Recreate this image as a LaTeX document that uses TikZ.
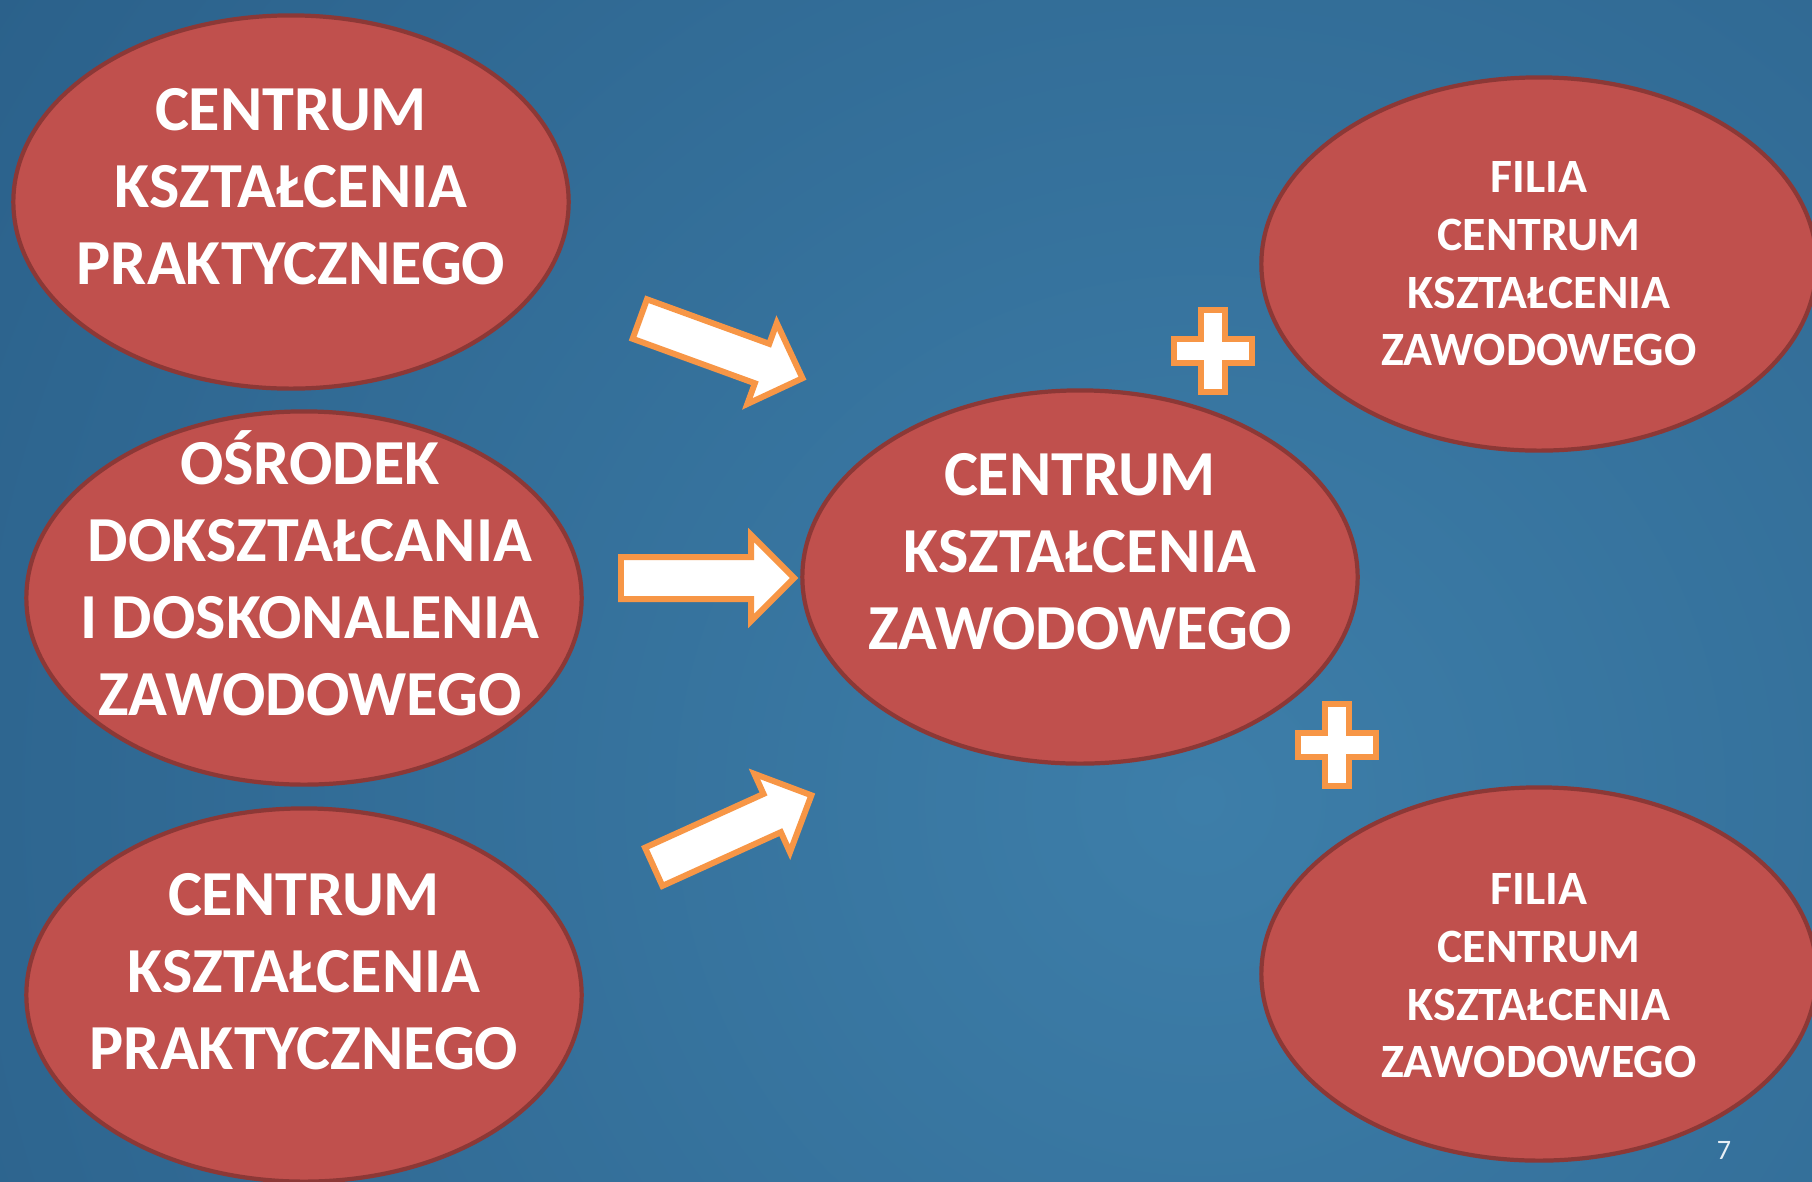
\documentclass[tikz,border=0pt]{standalone}
\usepackage{fontspec}
\setmainfont{Carlito}
\usetikzlibrary{shapes.geometric,shapes.arrows}
\definecolor{bgdark}{HTML}{1E4C75}
\definecolor{bglight}{HTML}{3D7EA9}
\definecolor{ovalfill}{HTML}{C0504D}
\definecolor{ovalline}{HTML}{8C3836}
\definecolor{arroworange}{HTML}{F79646}
\tikzstyle{unit}=[ellipse, draw=ovalline, fill=ovalfill, line width=1.2pt, inner sep=0pt, minimum width=5.55cm, minimum height=3.73cm]
\tikzstyle{bigtext}=[text=white, align=center, font=\fontsize{18.25pt}{21.9pt}\selectfont\bfseries]
\tikzstyle{smalltext}=[text=white, align=center, font=\fontsize{13.6pt}{16.4pt}\selectfont\bfseries]
\tikzstyle{blockarrow}=[single arrow, draw=arroworange, fill=white, line width=1.7pt, inner xsep=0pt, inner ysep=0.18cm, minimum height=1.73cm, single arrow head extend=0.22cm, anchor=tail]
\tikzstyle{plusbox}=[draw=arroworange, fill=white, line width=1.7pt]
\newcommand{\unitnode}{\node[unit]}
\newcommand{\blockarrow}{\node[blockarrow]}
\newcommand{\plussign}[1]{\draw[plusbox, shift={#1}] (-12,-41) -- (12,-41) -- (12,-12) -- (39,-12) -- (39,12) -- (12,12) -- (12,41) -- (-12,41) -- (-12,12) -- (-39,12) -- (-39,-12) -- (-12,-12) -- cycle;}

\begin{document}
\begin{tikzpicture}[x=0.01cm, y=-0.01cm]
	\useasboundingbox (0,0) rectangle (1812,1181);
	\begin{scope}
		\clip (0,0) rectangle (1812,1181);
		\shade[inner color=bglight, outer color=bgdark] (1200,800) circle (25cm);
	\end{scope}
	\unitnode (ckp1) at (291,202) [label={[bigtext,yshift=0.15cm]center:{CENTRUM\\KSZTAŁCENIA\\PRAKTYCZNEGO}}]{};
	\unitnode (odidz) at (304,598) [label={[bigtext,xshift=0.06cm,yshift=0.25cm]center:{OŚRODEK\\DOKSZTAŁCANIA\\I DOSKONALENIA\\ZAWODOWEGO}}]{};
	\unitnode (ckp2) at (304,995) [label={[bigtext,yshift=0.23cm]center:{CENTRUM\\KSZTAŁCENIA\\PRAKTYCZNEGO}}]{};
	\unitnode (ckz) at (1080,577) [label={[bigtext,yshift=0.25cm]center:{CENTRUM\\KSZTAŁCENIA\\ZAWODOWEGO}}]{};
	\unitnode (filia1) at (1539,264) [label={[smalltext]center:{FILIA\\CENTRUM\\KSZTAŁCENIA\\ZAWODOWEGO}}]{};
	\unitnode (filia2) at (1539,974) [label={[smalltext,yshift=-0.02cm]center:{FILIA\\CENTRUM\\KSZTAŁCENIA\\ZAWODOWEGO}}]{};
	% strzalki
	\blockarrow (arr1) at (637,318) [rotate=-20]{};
	\blockarrow (arr2) at (618,578) {};
	\blockarrow (arr3) at (651,868) [rotate=24.4]{};
	% plusy
	\plussign{(1213,351)}
	\plussign{(1337,745)}
	\node (pagenum) at (1724,1150) [text=white!88!bglight, font=\fontsize{8pt}{9pt}\selectfont]{7};
\end{tikzpicture}
\end{document}
